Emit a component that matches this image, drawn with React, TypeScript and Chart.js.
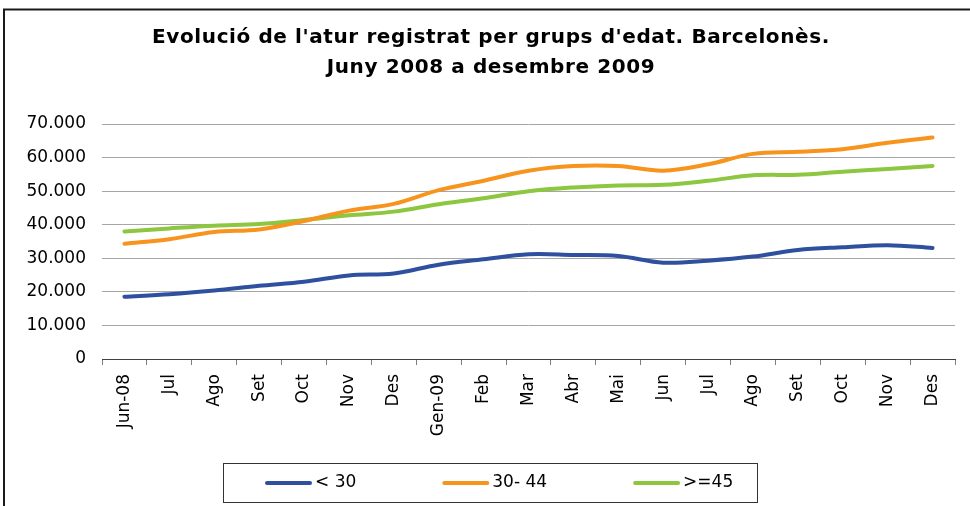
import React, { useEffect, useRef } from 'react';
import { Chart, registerables } from 'chart.js';

Chart.register(...registerables);

const categories = ['Jun-08', 'Jul', 'Ago', 'Set', 'Oct', 'Nov', 'Des', 'Gen-09', 'Feb', 'Mar', 'Abr', 'Mai', 'Jun', 'Jul', 'Ago', 'Set', 'Oct', 'Nov', 'Des'];
const seriesLabels = ['< 30', '30- 44', '>=45'];
const under30 = [18560, 19300, 20400, 21800, 23000, 24900, 25500, 28100, 29700, 31200, 31000, 30700, 28700, 29300, 30500, 32500, 33300, 33900, 33100];
const from30to44 = [34300, 35700, 37800, 38600, 41100, 44200, 46200, 50300, 53100, 56100, 57500, 57500, 56100, 58000, 61100, 61700, 62500, 64400, 66000];
const over45 = [38000, 38900, 39700, 40200, 41400, 42800, 43900, 46100, 47900, 50000, 51100, 51700, 51900, 53100, 54700, 54900, 55800, 56600, 57500];
const seriesColors = ['#2f4f9f', '#f7941d', '#8dc63f'];
const yMin = 0;
const yMax = 70000;
const yStep = 10000;
const titleLines = ["Evolució de l'atur registrat per grups d'edat. Barcelonès.", 'Juny 2008 a desembre 2009'];

const FONT = '"DejaVu Sans", Verdana, sans-serif';

const fmtThousands = (v: number) => String(Math.round(v)).replace(/\B(?=(\d{3})+(?!\d))/g, '.');

const decorPlugin = {
  id: 'decor',
  beforeDraw(chart: any) {
    const ctx = chart.ctx as CanvasRenderingContext2D;
    ctx.save();
    ctx.fillStyle = '#ffffff';
    ctx.fillRect(0, 0, chart.width, chart.height);
    // outer frame (left and top edges visible)
    ctx.strokeStyle = '#1a1a1a';
    ctx.lineWidth = 2;
    ctx.beginPath();
    ctx.moveTo(4, chart.height + 5);
    ctx.lineTo(4, 9.5);
    ctx.lineTo(chart.width + 5, 9.5);
    ctx.stroke();
    ctx.restore();
  },
  afterDraw(chart: any) {
    const ctx = chart.ctx as CanvasRenderingContext2D;
    ctx.save();
    // title
    ctx.fillStyle = '#000';
    ctx.font = `bold 20px ${FONT}`;
    (ctx as any).letterSpacing = '0.6px';
    ctx.textAlign = 'center';
    ctx.textBaseline = 'middle';
    titleLines.forEach((t, i) => ctx.fillText(t, 491, 38 + i * 30));
    (ctx as any).letterSpacing = '0px';

    // legend box
    ctx.strokeStyle = '#333';
    ctx.lineWidth = 1;
    ctx.strokeRect(223.5, 463.5, 534, 39);
    ctx.font = `17px ${FONT}`;
    ctx.textAlign = 'left';
    let x = 267;
    const y = 483;
    chart.data.datasets.forEach((ds: any) => {
      ctx.strokeStyle = ds.borderColor;
      ctx.lineWidth = 4;
      ctx.lineCap = 'round';
      ctx.beginPath();
      ctx.moveTo(x, y);
      ctx.lineTo(x + 43, y);
      ctx.stroke();
      ctx.fillStyle = '#000';
      ctx.fillText(ds.label, x + 48, y);
      x += 48 + ctx.measureText(ds.label).width + 88;
    });
    ctx.restore();
  },
};

export default function App() {
  const ref = useRef<HTMLCanvasElement | null>(null);
  useEffect(() => {
    if (!ref.current) return;
    const mk = (i: number, data: number[]) => ({
      label: seriesLabels[i],
      data,
      borderColor: seriesColors[i],
      backgroundColor: seriesColors[i],
      borderWidth: 4,
      tension: 0.35,
      pointRadius: 0,
      borderCapStyle: 'round' as const,
      borderJoinStyle: 'round' as const,
      fill: false,
    });
    const chart = new Chart(ref.current, {
      type: 'line',
      data: {
        labels: categories,
        datasets: [mk(0, under30), mk(1, from30to44), mk(2, over45)],
      },
      options: {
        animation: false,
        responsive: false,
        devicePixelRatio: 1,
        layout: { padding: { top: 124, right: 15, bottom: 0, left: 0 } },
        plugins: {
          legend: { display: false },
          title: { display: false },
          tooltip: { enabled: false },
        },
        scales: {
          x: {
            offset: true,
            grid: { offset: true, drawOnChartArea: false, drawTicks: true, tickLength: 6, color: '#7f7f7f' },
            border: { display: true, color: '#404040', width: 1 },
            ticks: { minRotation: 90, maxRotation: 90, autoSkip: false, padding: 9, color: '#000', font: { family: FONT, size: 17 } },
            afterFit: (a: any) => { a.height = 147; },
          },
          y: {
            min: yMin,
            max: yMax,
            ticks: { stepSize: yStep, padding: 16, color: '#000', font: { family: FONT, size: 17 }, callback: (v: any) => fmtThousands(Number(v)) },
            grid: { color: '#a6a6a6', drawTicks: false, lineWidth: 1 },
            border: { display: false },
            afterFit: (a: any) => { a.width = 102; },
          },
        },
      },
      plugins: [decorPlugin],
    });
    return () => chart.destroy();
  }, []);
  return (
    <div style={{ position: 'absolute', left: 0, top: 0, width: 970, height: 506 }}>
      <canvas ref={ref} width={970} height={506} style={{ display: 'block' }} />
    </div>
  );
}
